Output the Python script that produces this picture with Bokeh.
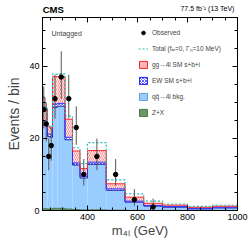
import numpy as np
from bokeh.plotting import figure
from bokeh.models import (Range1d, FixedTicker, LinearAxis, Label, Legend, LegendItem)
from bokeh.embed import file_html
from bokeh.resources import INLINE

# ---------------- data ----------------
EDGES = [220, 230, 240, 250, 260, 280, 310, 340, 370, 400, 475, 550, 625, 700, 800, 900, 1000]
ZX = [0.5, 0.5, 0.4, 0.4, 0.6, 0.6, 0.4, 0.25, 0.15, 0.2, 0.08, 0.03, 0.02, 0.01, 0.01, 0.01]
QQ = [23.3, 23.0, 20.1, 19.9, 28.0, 28.3, 19.2, 12.35, 8.85, 12.6, 5.52, 2.27, 1.18, 0.89, 0.44, 0.69]
EW = [0.8, 0.8, 0.7, 0.7, 0.9, 0.8, 0.7, 0.6, 0.5, 0.6, 0.4, 0.3, 0.2, 0.2, 0.15, 0.2]
GG = [6.7, 3.7, 2.0, 1.8, 7.6, 7.4, 5.0, 3.3, 2.1, 3.2, 1.4, 1.1, 0.6, 0.4, 0.3, 0.3]
ALT = [31.6, 28.3, 23.5, 23.2, 37.8, 37.9, 26.2, 17.4, 13.0, 18.8, 8.5, 4.6, 2.6, 1.8, 1.15, 1.45]
OBS = [28, 24, 15, 18, 31, 37, 31, 23, 10, 15, 10, 3, 1, 0, 0, 0]
OBS_LO = [5.26, 4.87, 3.83, 4.20, 5.54, 6.06, 5.54, 4.77, 3.11, 3.83, 3.11, 1.63, 0.83, 0, 0, 0]
OBS_HI = [6.35, 5.96, 4.95, 5.30, 6.63, 7.13, 6.63, 5.86, 4.26, 4.95, 4.26, 2.92, 2.30, 0, 0, 0]

X_MAJOR = [400, 600, 800, 1000]
X_MINOR = [250, 300, 350, 450, 500, 550, 650, 700, 750, 850, 900, 950]
Y_MAJOR = [0, 20, 40]
Y_MINOR = [5, 10, 15, 25, 30, 35, 45, 50]

CMS_TEXT = "CMS"
LUMI_TEXT = "77.5 fb⁻¹ (13 TeV)"
CAT_TEXT = "Untagged"

FONT = "Liberation Sans"

# layout anchors for the header texts (x in axis units, where each text is centred)
CMS_X = 263
LUMI_X = 880

# ---------------- derived ----------------
left = np.array(EDGES[:-1], dtype=float)
right = np.array(EDGES[1:], dtype=float)
centers = 0.5 * (left + right)
zx_top = np.array(ZX)
qq_top = zx_top + np.array(QQ)
ew_top = qq_top + np.array(EW)
gg_top = ew_top + np.array(GG)
alt = np.array(ALT)
obs = np.array(OBS, dtype=float)
lo = np.array(OBS_LO)
hi = np.array(OBS_HI)
m = obs > 0


def steps(v):
    return list(v) + [v[-1]]


p = figure(width=249, height=242, x_range=Range1d(220, 1000), y_range=Range1d(0, 53.5),
           output_backend="svg", toolbar_location=None,
           min_border_left=42, min_border_right=12, min_border_top=16, min_border_bottom=32)
p.xgrid.visible = False
p.ygrid.visible = False
p.outline_line_color = "black"
p.outline_line_width = 1
p.background_fill_color = "white"

# stacked fills
p.quad(left=left, right=right, bottom=0, top=zx_top, fill_color="#669966", line_color=None)
p.quad(left=left, right=right, bottom=zx_top, top=qq_top, fill_color="#99ccff", line_color=None)
p.quad(left=left, right=right, bottom=qq_top, top=ew_top, fill_color="white",
       hatch_pattern="x", hatch_color="#2222ff", hatch_scale=3, hatch_weight=0.7, line_color=None)
p.quad(left=left, right=right, bottom=ew_top, top=gg_top, fill_color="#fff2f2",
       hatch_pattern="\\", hatch_color="#ff6666", hatch_scale=4, hatch_weight=0.7, line_color=None)

# outlines
p.step(x=EDGES, y=steps(zx_top), mode="after", line_color="#336633", line_width=0.8)
p.step(x=EDGES, y=steps(qq_top), mode="after", line_color="#000099", line_width=0.8)
p.step(x=EDGES, y=steps(ew_top), mode="after", line_color="#3333ff", line_width=1)
p.step(x=EDGES, y=steps(gg_top), mode="after", line_color="#ff2222", line_width=1)
r_alt = p.step(x=EDGES, y=steps(alt), mode="after", line_color="#22bbbb", line_width=1.2,
               line_dash="2 2")

# observed
p.segment(x0=centers[m], y0=(obs - lo)[m], x1=centers[m], y1=(obs + hi)[m],
          line_color="#555555", line_width=1)
r_obs = p.scatter(x=centers[m], y=obs[m], size=4.5, marker="circle", fill_color="black", line_color="black")

# legend proxies (hidden, with borders)
l_gg = p.quad(left=left, right=right, bottom=ew_top, top=gg_top, fill_color="#fff2f2",
              hatch_pattern="\\", hatch_color="#ff6666", hatch_scale=3, hatch_weight=0.7,
              line_color="#ff2222", line_width=1, visible=False)
l_ew = p.quad(left=left, right=right, bottom=qq_top, top=ew_top, fill_color="white",
              hatch_pattern="x", hatch_color="#2222ff", hatch_scale=3, hatch_weight=0.7,
              line_color="#2222ff", line_width=1, visible=False)
l_qq = p.quad(left=left, right=right, bottom=zx_top, top=qq_top, fill_color="#99ccff",
              line_color="#5588cc", line_width=0.8, visible=False)
l_zx = p.quad(left=left, right=right, bottom=0, top=zx_top, fill_color="#669966",
              line_color="#336633", line_width=0.8, visible=False)

legend = Legend(items=[
    LegendItem(label="Observed", renderers=[r_obs]),
    LegendItem(label="Total (fₐᵢ=0, Γₕ=10 MeV)", renderers=[r_alt]),
    LegendItem(label="gg→4l SM s+b+i", renderers=[l_gg]),
    LegendItem(label="EW SM s+b+i", renderers=[l_ew]),
    LegendItem(label="qq̄→4l bkg.", renderers=[l_qq]),
    LegendItem(label="Z+X", renderers=[l_zx]),
], location=(96, 93), orientation="vertical", padding=0, margin=0, spacing=6,
    glyph_height=9, glyph_width=10, label_height=10, label_width=10, label_standoff=4,
    label_text_font=FONT, label_text_font_size="6.5px", label_text_baseline="middle",
    background_fill_alpha=0, border_line_color=None, click_policy="none")
p.add_layout(legend)


def style_axis(ax, ticks, minor):
    ax.ticker = FixedTicker(ticks=ticks, minor_ticks=minor)
    ax.major_tick_in = 5
    ax.major_tick_out = 0
    ax.minor_tick_in = 3
    ax.minor_tick_out = 0
    ax.axis_line_color = "black"
    ax.major_tick_line_color = "black"
    ax.minor_tick_line_color = "black"
    ax.major_label_text_font = FONT
    ax.major_label_text_font_size = "9px"
    ax.major_label_text_color = "black"
    ax.major_label_standoff = 3


def tick_only_axis(ticks, length):
    ax = LinearAxis(ticker=FixedTicker(ticks=[], minor_ticks=ticks))
    ax.minor_tick_in = length
    ax.minor_tick_out = 0
    ax.major_tick_in = 0
    ax.major_tick_out = 0
    ax.minor_tick_line_color = "black"
    ax.axis_line_color = "black"
    ax.major_label_standoff = 0
    ax.axis_label_standoff = 0
    return ax


def text_axis(pos, text, size, style, standoff):
    ax = LinearAxis(ticker=FixedTicker(ticks=[pos], minor_ticks=[]))
    ax.major_label_overrides = {pos: text}
    ax.major_tick_in = 0
    ax.major_tick_out = 0
    ax.minor_tick_in = 0
    ax.minor_tick_out = 0
    ax.axis_line_color = None
    ax.major_tick_line_color = None
    ax.minor_tick_line_color = None
    ax.major_label_text_font = FONT
    ax.major_label_text_font_size = size
    ax.major_label_text_font_style = style
    ax.major_label_text_color = "black"
    ax.major_label_standoff = standoff
    ax.axis_label_standoff = 0
    return ax


xa = p.xaxis[0]
ya = p.yaxis[0]
style_axis(xa, X_MAJOR, X_MINOR)
style_axis(ya, Y_MAJOR, Y_MINOR)
xa.axis_label = "m₄ₗ (GeV)"
xa.axis_label_text_font = FONT
xa.axis_label_text_font_size = "13px"
xa.axis_label_text_font_style = "normal"
xa.axis_label_standoff = 0
ya.axis_label = "Events / bin"
ya.axis_label_text_font = FONT
ya.axis_label_text_font_size = "14px"
ya.axis_label_text_font_style = "normal"
ya.axis_label_standoff = 4

p.add_layout(tick_only_axis(X_MAJOR, 5), "above")
p.add_layout(tick_only_axis(X_MINOR, 3), "above")
p.add_layout(tick_only_axis(Y_MAJOR, 5), "right")
p.add_layout(tick_only_axis(Y_MINOR, 3), "right")

# header texts carried by label-only axes above the frame
p.add_layout(text_axis(CMS_X, CMS_TEXT, "9.5px", "bold", 3), "above")
p.add_layout(text_axis(LUMI_X, LUMI_TEXT, "7px", "normal", -11), "above")

p.add_layout(Label(x=9, y=177, x_units="screen", y_units="screen", text=CAT_TEXT,
                   text_font=FONT, text_font_size="7px", text_baseline="middle", text_align="left"))

open("out.html", "w").write(file_html(p, INLINE))
